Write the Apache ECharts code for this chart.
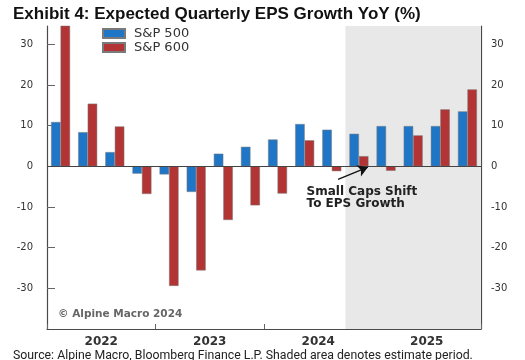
<!DOCTYPE html>
<html>
<head>
<meta charset="utf-8">
<script src="https://cdn.jsdelivr.net/npm/echarts@6/dist/echarts.min.js"></script>
<style>html,body{margin:0;padding:0;background:#fff}#c{width:525px;height:360px}</style>
</head>
<body>
<div id="c"></div>
<script>
const quarters = ['2022Q1','2022Q2','2022Q3','2022Q4','2023Q1','2023Q2','2023Q3','2023Q4','2024Q1','2024Q2','2024Q3','2024Q4','2025Q1','2025Q2','2025Q3','2025Q4'];
const years = ['2022','2023','2024','2025'];
const sp500 = [10.9, 8.4, 3.5, -1.8, -2.0, -6.3, 3.1, 4.8, 6.6, 10.4, 9.0, 8.0, 9.9, 9.9, 9.9, 13.5];
const sp600 = [35, 15.4, 9.8, -6.8, -29.4, -25.6, -13.2, -9.6, -6.7, 6.4, -1.2, 2.5, -1.1, 7.6, 14.0, 18.9];
const yTicks = [-30, -20, -10, 0, 10, 20, 30];
const estimateStart = 11; // index of first estimated quarter
const annotationText = 'Small Caps Shift\nTo EPS Growth';

const chart = echarts.init(document.getElementById('c'), null, {renderer: 'canvas'});
const axisColor = '#4a4a4a';
const yAxisCommon = {
  type: 'value', min: -40, max: 34.5, interval: 10,
  axisLine: {show: true, onZero: false, lineStyle: {color: axisColor, width: 1.2}},
  axisTick: {show: true, inside: true, length: 8, customValues: yTicks, lineStyle: {color: '#666'}},
  axisLabel: {customValues: yTicks, fontFamily: 'DejaVu Sans', fontSize: 10, color: '#333'},
  splitLine: {show: false}
};
chart.setOption({
  animation: false,
  title: [
    {text: 'Exhibit 4: Expected Quarterly EPS Growth YoY (%)', left: 8, top: 1,
     textStyle: {fontFamily: 'Liberation Sans', fontWeight: 'bold', fontSize: 17, color: '#111'}},
    {text: 'Source: Alpine Macro, Bloomberg Finance L.P. Shaded area denotes estimate period.', left: 8, top: 345,
     textStyle: {fontFamily: 'Roboto', fontWeight: 'normal', fontSize: 12.3, color: '#222'}}
  ],
  legend: {
    orient: 'vertical', left: 102, top: 27, padding: 0, itemWidth: 22, itemHeight: 9, itemGap: 1,
    icon: 'rect',
    textStyle: {fontFamily: 'DejaVu Sans', fontSize: 13, color: '#333', padding: [0, 0, 0, 4]},
    data: ['S&P 500', 'S&P 600']
  },
  grid: {left: 47, right: 44, top: 26, bottom: 31, containLabel: false},
  xAxis: [
    {type: 'category', data: quarters, position: 'bottom',
     axisLine: {show: true, onZero: false, lineStyle: {color: axisColor, width: 1.2}},
     axisTick: {show: true, inside: true, length: 5, interval: (i) => i % 4 === 0, lineStyle: {color: '#666'}},
     axisLabel: {show: false}},
    {type: 'category', data: years, position: 'bottom',
     axisLine: {show: false}, axisTick: {show: false},
     axisLabel: {margin: 7, fontFamily: 'DejaVu Sans', fontWeight: 'bold', fontSize: 12, color: '#333'}},
    {type: 'value', min: -0.5, max: quarters.length - 0.5, show: false}
  ],
  yAxis: [
    Object.assign({}, yAxisCommon, {position: 'left', axisLabel: Object.assign({}, yAxisCommon.axisLabel, {margin: 14})}),
    Object.assign({}, yAxisCommon, {position: 'right', axisLabel: Object.assign({}, yAxisCommon.axisLabel, {margin: 10})})
  ],
  series: [
    {name: 'anno', type: 'scatter', xAxisIndex: 2, yAxisIndex: 0, data: [], z: 1, silent: true,
     markArea: {silent: true, itemStyle: {color: '#e8e8e8'},
       data: [[{xAxis: estimateStart - 0.5}, {xAxis: quarters.length - 0.5}]]},
     markLine: {silent: true, symbol: 'none', label: {show: false},
       lineStyle: {color: '#444', width: 1.2, type: 'solid'},
       data: [
         {yAxis: 0},
         [{coord: [10.23, -3.2], symbol: 'none'},
          {coord: [11.33, -0.2], symbol: 'arrow', symbolSize: [9, 10], lineStyle: {color: '#111', width: 1.3}}]
       ]},
     markPoint: {silent: true, symbol: 'circle', symbolSize: 0,
       label: {show: true, position: 'inside', align: 'left', verticalAlign: 'top',
         formatter: annotationText, fontFamily: 'DejaVu Sans', fontWeight: 'bold', fontSize: 12,
         lineHeight: 12, color: '#222'},
       data: [{coord: [9.07, -4.9]}]}
    },
    {name: 'S&P 500', type: 'bar', xAxisIndex: 0, yAxisIndex: 0, data: sp500, z: 3,
     barWidth: '35%', barGap: '0%',
     itemStyle: {color: '#1f75c6', borderColor: '#7a7a7a', borderWidth: 0.5}},
    {name: 'S&P 600', type: 'bar', xAxisIndex: 0, yAxisIndex: 0, data: sp600, z: 3,
     barWidth: '35%', barGap: '0%',
     itemStyle: {color: '#b23434', borderColor: '#7a7a7a', borderWidth: 0.5}}
  ],
  graphic: [
    {type: 'text', left: 58, top: 309, silent: true,
     style: {text: '© Alpine Macro 2024', fontFamily: 'DejaVu Sans', fontWeight: 'bold', fontSize: 10.5, fill: '#666'}}
  ]
});
</script>
</body>
</html>
